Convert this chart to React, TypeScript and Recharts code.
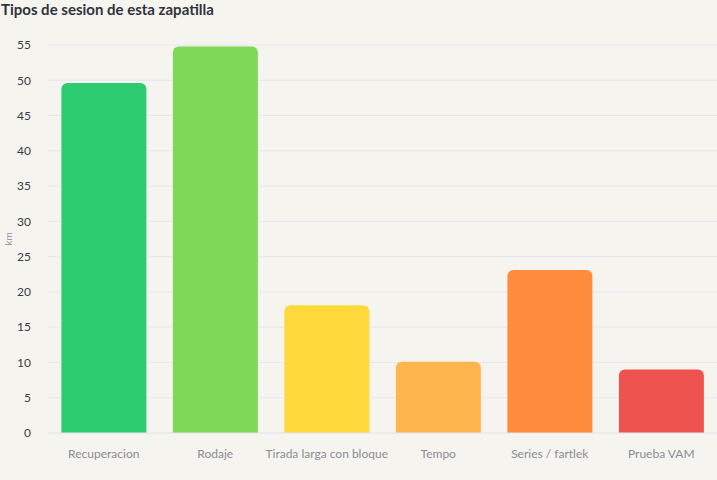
import { BarChart, Bar, XAxis, YAxis, CartesianGrid, Cell } from "recharts";

const categories = [
  "Recuperacion",
  "Rodaje",
  "Tirada larga con bloque",
  "Tempo",
  "Series / fartlek",
  "Prueba VAM",
];
const kmValues = [49.6, 54.8, 18.1, 10.1, 23.1, 9.0];
const barColors = ["#2ecc71", "#7ed957", "#ffd93b", "#ffb54d", "#ff8c3c", "#ef5350"];
const yTicks = [0, 5, 10, 15, 20, 25, 30, 35, 40, 45, 50, 55];

const data = categories.map((name, i) => ({ name, km: kmValues[i] }));

const FONT = "Lato, 'Noto Sans', sans-serif";

export default function App() {
  return (
    <div
      style={{
        position: "absolute",
        left: 0,
        top: 0,
        width: 717,
        height: 480,
        background: "#f5f4ef",
        fontFamily: FONT,
        overflow: "hidden",
      }}
    >
      <div
        style={{
          position: "absolute",
          left: 1,
          top: 0,
          fontSize: 15,
          fontWeight: 700,
          color: "#30333b",
          lineHeight: "18px",
        }}
      >
        Tipos de sesion de esta zapatilla
      </div>
      <BarChart
        width={717}
        height={480}
        data={data}
        margin={{ top: 45, right: 0, bottom: 17, left: 0 }}
        barCategoryGap="12%"
      >
        <CartesianGrid vertical={false} stroke="#e6e7ef" strokeWidth={1} />
        <XAxis
          dataKey="name"
          tickLine={false}
          axisLine={{ stroke: "#e6e7ef" }}
          tickMargin={10}
          interval={0}
          tick={{ fontSize: 12, fill: "#8a8d96", fontFamily: FONT }}
        />
        <YAxis
          width={48}
          domain={[0, 55]}
          ticks={yTicks}
          tickLine={false}
          axisLine={false}
          tickMargin={11}
          tick={{ fontSize: 12, fill: "#3a3d45", fontFamily: FONT }}
          label={{
            value: "km",
            angle: -90,
            position: "insideLeft",
            offset: 8,
            style: { textAnchor: "middle", fontSize: 10, fill: "#8a8d96", fontFamily: FONT },
          }}
        />
        <Bar dataKey="km" radius={[6, 6, 0, 0]} isAnimationActive={false}>
          {data.map((d, i) => (
            <Cell key={d.name} fill={barColors[i]} />
          ))}
        </Bar>
      </BarChart>
    </div>
  );
}
